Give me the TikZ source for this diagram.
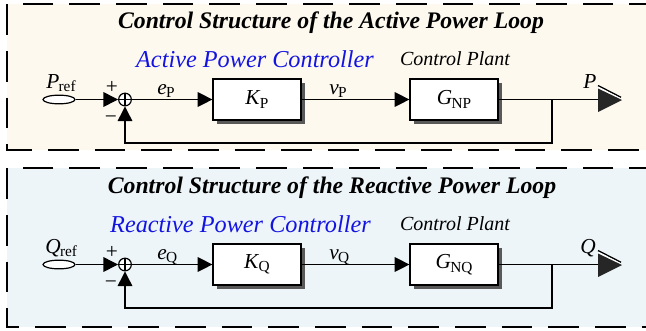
\documentclass[tikz,border=0pt]{standalone}
\usepackage{fontspec}
\setmainfont{Liberation Serif}
\usetikzlibrary{arrows.meta,shapes.geometric,shadows}
\definecolor{creamfill}{HTML}{FDF9EF}
\definecolor{bluefill}{HTML}{EDF5F8}
\definecolor{ctrlblue}{RGB}{20,20,225}
\newcommand\sg[2]{\textit{#1}\kern-0.5pt\raisebox{-0.35ex}{\fontsize{11.5}{11.5}\selectfont #2}}
\begin{document}
\begin{tikzpicture}[x=0.75pt,y=-0.75pt,
  panelline/.style={dash pattern=on 23pt off 12pt, line width=1.5pt},
  blk/.style={draw, line width=0.9pt, fill=white, minimum width=66pt, minimum height=30.75pt, inner sep=0pt,
    font=\fontsize{16}{16}\selectfont,
    drop shadow={shadow xshift=3pt, shadow yshift=-3pt, fill=black!65, opacity=1}},
  sumnode/.style={draw, circle, line width=0.9pt, minimum size=9.5pt, inner sep=0pt, fill=white},
  refnode/.style={draw, ellipse, line width=0.9pt, minimum width=24pt, minimum height=6.5pt, inner sep=0pt, fill=white},
  arr/.style={line width=0.9pt, -{Triangle[length=11pt,width=11pt]}},
  wire/.style={line width=0.9pt},
  ttl/.style={font=\fontsize{17.8}{17.8}\selectfont\bfseries\itshape, anchor=base},
  ctl/.style={font=\fontsize{18.2}{18.2}\selectfont\itshape, text=ctrlblue, anchor=base},
  plant/.style={font=\fontsize{15}{15}\selectfont\itshape, anchor=base},
  lbl/.style={font=\fontsize{16}{16}\selectfont, anchor=base west, inner sep=0pt},
  sgn/.style={font=\fontsize{16}{16}\selectfont, inner sep=0pt}
]
\useasboundingbox (0,0) rectangle (646,330);
\begin{scope}
\clip (0,0) rectangle (646,330);
% panels
\fill[creamfill] (7,4) rectangle (660,150);
\fill[bluefill] (7,168) rectangle (660,327);
\draw[panelline] (660,4) -- (7,4) -- (7,150) -- (660,150);
\draw[panelline] (660,168) -- (7,168) -- (7,327) -- (660,327);
\end{scope}

% ---------------- Active power loop ----------------
\node[ttl] (t1) at (331,28) {Control Structure of the Active Power Loop};
\node[ctl] (c1) at (255,67) {Active Power Controller};
\node[plant] (p1) at (455,65) {Control Plant};

\node[refnode] (refP) at (59,99.5) {};
\node[sumnode] (sumP) at (125,99.5) {};
\draw[line width=0.9pt] (sumP.north) -- (sumP.south) (sumP.west) -- (sumP.east);
\node[blk] (KP) at (257,99.5) {\sg{K}{P}};
\node[blk] (GP) at (454,99.5) {\sg{G}{NP}};
\coordinate (brP) at (552,99.5);
\coordinate (fbP) at (552,143);
\coordinate (outP) at (598,99.5);

\draw[arr] (refP) -- (sumP);
\draw[arr] (sumP) -- (KP);
\draw[arr] (KP) -- (GP);
\draw[wire] (GP) -- (outP);
\draw[arr] (brP) -- (fbP) -| (sumP.south);
\draw[line width=1pt] (598,85.5) -- (621,97.3);
\draw[white,line width=1pt] (598,87.4) -- (620,98.6);
\fill[black!85] (598,88.5) -- (622,100) -- (598,112) -- cycle;

\node[lbl] (lrefP) at (46,88) {\sg{P}{ref}};
\node[sgn] (plusP) at (112,87) {+};
\node[sgn] (minusP) at (111,120) {−};
\node[lbl] (eP) at (157,94) {\sg{e}{P}};
\node[lbl] (vP) at (329,94) {\sg{v}{P}};
\node[lbl] (oP) at (583,88) {\textit{P}};

% ---------------- Reactive power loop ----------------
\node[ttl] (t2) at (332,193) {Control Structure of the Reactive Power Loop};
\node[ctl] (c2) at (240.5,232) {Reactive Power Controller};
\node[plant] (p2) at (455,230) {Control Plant};

\node[refnode] (refQ) at (59,264.5) {};
\node[sumnode] (sumQ) at (125,264.5) {};
\draw[line width=0.9pt] (sumQ.north) -- (sumQ.south) (sumQ.west) -- (sumQ.east);
\node[blk] (KQ) at (257,264.5) {\sg{K}{Q}};
\node[blk] (GQ) at (454,264.5) {\sg{G}{NQ}};
\coordinate (brQ) at (552,264.5);
\coordinate (fbQ) at (552,308);
\coordinate (outQ) at (598,264.5);

\draw[arr] (refQ) -- (sumQ);
\draw[arr] (sumQ) -- (KQ);
\draw[arr] (KQ) -- (GQ);
\draw[wire] (GQ) -- (outQ);
\draw[arr] (brQ) -- (fbQ) -| (sumQ.south);
\draw[line width=1pt] (598,250.5) -- (621,262.3);
\draw[white,line width=1pt] (598,252.4) -- (620,263.6);
\fill[black!85] (598,253.5) -- (622,265) -- (598,277) -- cycle;

\node[lbl] (lrefQ) at (45,253) {\sg{Q}{ref}};
\node[sgn] (plusQ) at (112,252) {+};
\node[sgn] (minusQ) at (111,285) {−};
\node[lbl] (eQ) at (157,259) {\sg{e}{Q}};
\node[lbl] (vQ) at (329,259) {\sg{v}{Q}};
\node[lbl] (oQ) at (580,253) {\textit{Q}};
\end{tikzpicture}
\end{document}
